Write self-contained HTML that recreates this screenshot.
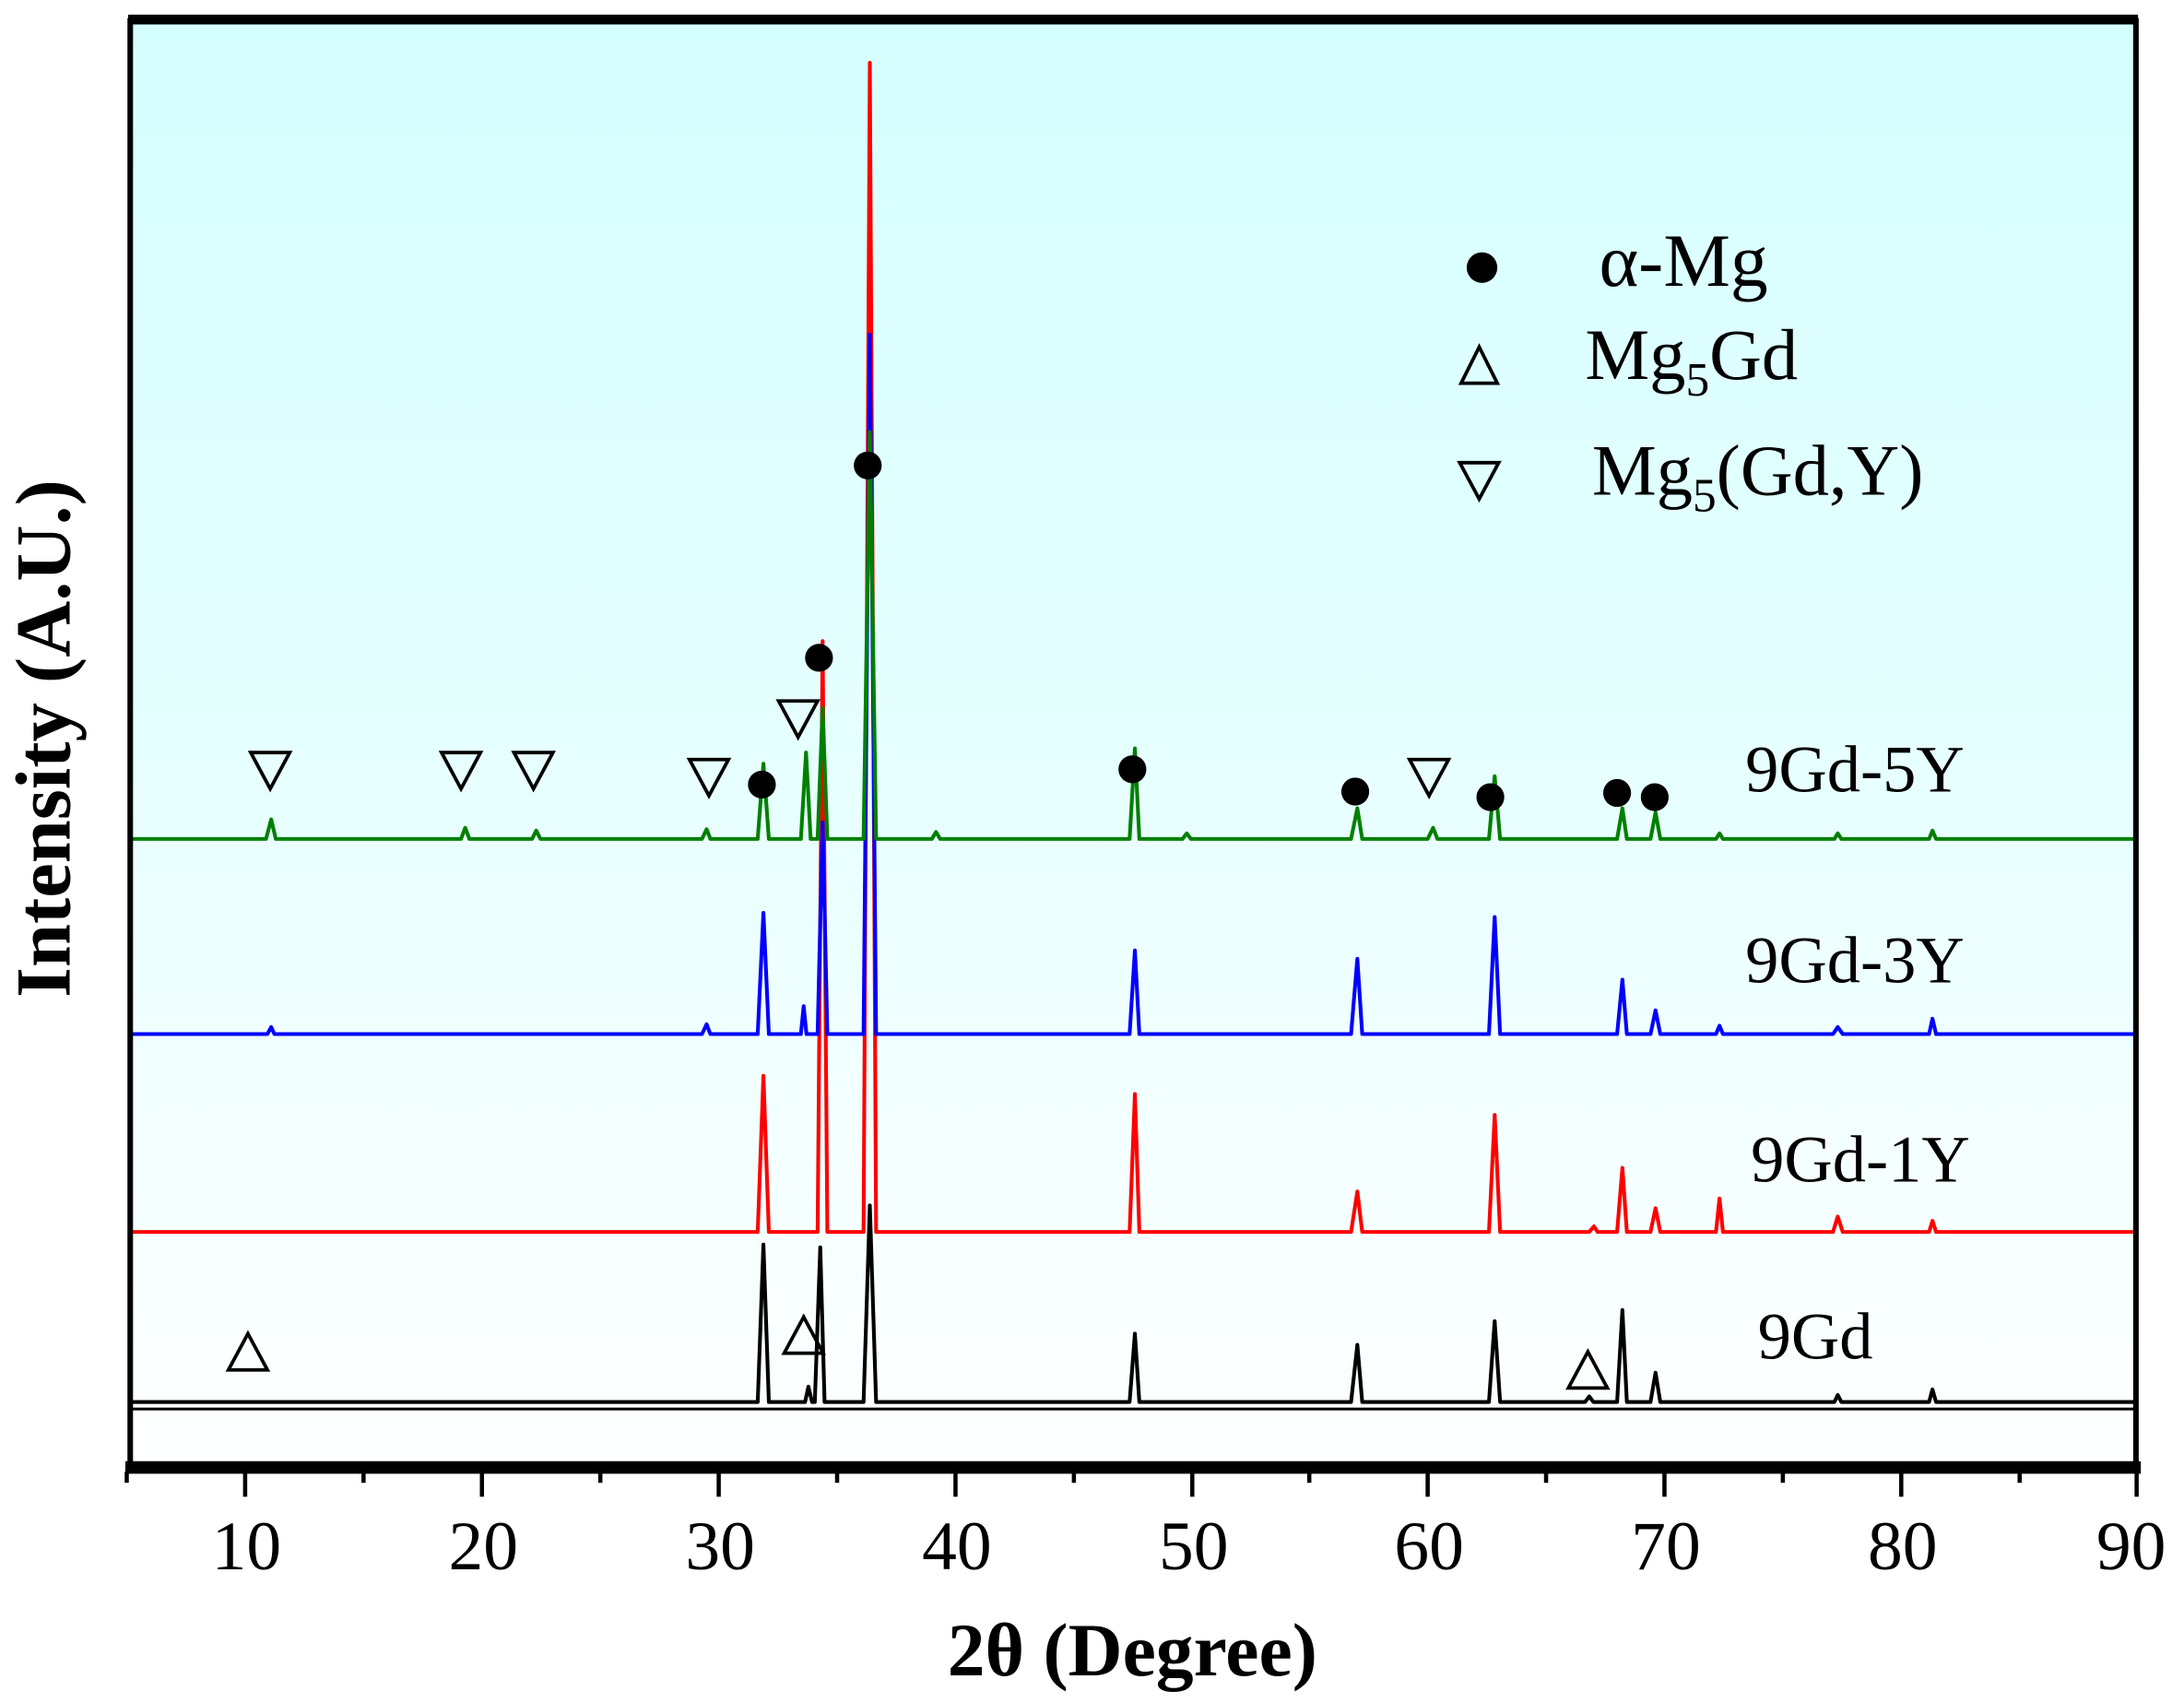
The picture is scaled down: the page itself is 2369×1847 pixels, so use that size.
<!DOCTYPE html>
<html><head><meta charset="utf-8"><style>html,body{margin:0;padding:0;background:#fff}svg{display:block}</style></head>
<body>
<svg xmlns="http://www.w3.org/2000/svg" width="2369" height="1847" viewBox="0 0 1568 1222" preserveAspectRatio="none" font-family="'Liberation Serif', serif">
<defs><linearGradient id="g" x1="0" y1="0" x2="0" y2="1"><stop offset="0" stop-color="#d6ffff"/><stop offset="0.5" stop-color="#e6ffff"/><stop offset="1" stop-color="#ffffff"/></linearGradient></defs>
<rect x="92" y="12" width="1443" height="1042" fill="url(#g)"/>
<g fill="none" stroke-width="2.7" stroke-linejoin="round">
<path stroke="#000" d="M92,1006 L544,1006 L548.1,893 L552,1006 L578,1006 L580.4,995 L583,1006 L585,1006 L588.9,895 L592,1006 L620,1006 L624.5,865 L629,1006 L811,1006 L814.8,957 L818,1006 L970,1006 L974.5,965 L978,1006 L1069,1006 L1073.1,948 L1077,1006 L1138,1006 L1141,1002 L1144,1006 L1161,1006 L1164.8,940 L1168,1006 L1185,1006 L1188.6,985 L1192,1006 L1317,1006 L1319.4,1001 L1322,1006 L1385,1006 L1387.4,997 L1390,1006 L1535,1006"/>
<path stroke="#ff0000" d="M92,884 L544,884 L548.1,772 L552,884 L587,884 L590.6,460 L594,884 L620,884 L624.5,45 L629,884 L811,884 L814.8,785 L818,884 L970,884 L974.5,855 L978,884 L1069,884 L1073.1,800 L1077,884 L1141,884 L1144.4,880 L1147,884 L1161,884 L1164.8,838 L1168,884 L1185,884 L1188.6,867 L1192,884 L1232,884 L1234.5,860 L1237,884 L1316,884 L1319.4,873 L1323,884 L1385,884 L1387.4,876 L1390,884 L1535,884"/>
<path stroke="#0000ff" d="M92,742 L192,742 L194.7,737 L197,742 L504,742 L507.3,735 L510,742 L544,742 L548.1,655 L552,742 L575,742 L577,722 L579,742 L587,742 L590.6,590 L594,742 L620,742 L624.5,240 L629,742 L811,742 L814.8,682 L818,742 L970,742 L974.5,688 L978,742 L1069,742 L1073.1,658 L1077,742 L1161,742 L1164.8,703 L1168,742 L1185,742 L1188.6,725 L1192,742 L1232,742 L1234.5,736 L1237,742 L1316,742 L1319.4,737 L1323,742 L1385,742 L1387.4,731 L1390,742 L1535,742"/>
<path stroke="#008000" d="M92,602 L191,602 L194.7,588 L198,602 L331,602 L334,594 L337,602 L382,602 L385,596 L388,602 L504,602 L507.3,595 L510,602 L544,602 L548.1,548 L552,602 L575,602 L578.7,540 L582,602 L587,602 L590.6,508 L594,602 L620,602 L624.5,310 L629,602 L669,602 L672,597 L675,602 L811,602 L814.8,537 L818,602 L849,602 L852,598 L855,602 L970,602 L974.5,580 L978,602 L1025,602 L1028.9,594 L1032,602 L1069,602 L1073.1,557 L1077,602 L1161,602 L1164.8,580 L1168,602 L1185,602 L1188.6,583 L1192,602 L1232,602 L1234.5,598 L1237,602 L1317,602 L1319.4,598 L1322,602 L1385,602 L1387.4,596 L1390,602 L1535,602"/>
</g>
<line x1="92" y1="1011" x2="1535" y2="1011" stroke="#000" stroke-width="2"/>
<rect x="93.5" y="15" width="1440" height="1039" fill="none" stroke="#000" stroke-width="4"/>
<line x1="92" y1="14" x2="1535" y2="14" stroke="#000" stroke-width="7"/>
<line x1="90" y1="1053" x2="1537" y2="1053" stroke="#000" stroke-width="9"/>
<g stroke="#000" stroke-width="3">
<line x1="91" y1="1056" x2="91" y2="1064"/><line x1="176" y1="1056" x2="176" y2="1074"/><line x1="261" y1="1056" x2="261" y2="1064"/><line x1="346" y1="1056" x2="346" y2="1074"/><line x1="431" y1="1056" x2="431" y2="1064"/><line x1="516" y1="1056" x2="516" y2="1074"/><line x1="601" y1="1056" x2="601" y2="1064"/><line x1="686" y1="1056" x2="686" y2="1074"/><line x1="771" y1="1056" x2="771" y2="1064"/><line x1="856" y1="1056" x2="856" y2="1074"/><line x1="940" y1="1056" x2="940" y2="1064"/><line x1="1025" y1="1056" x2="1025" y2="1074"/><line x1="1110" y1="1056" x2="1110" y2="1064"/><line x1="1195" y1="1056" x2="1195" y2="1074"/><line x1="1280" y1="1056" x2="1280" y2="1064"/><line x1="1365" y1="1056" x2="1365" y2="1074"/><line x1="1450" y1="1056" x2="1450" y2="1064"/><line x1="1534" y1="1056" x2="1534" y2="1074"/>
</g>
<g font-size="50" text-anchor="middle" fill="#000">
<text x="177" y="1126">10</text><text x="347" y="1126">20</text><text x="517" y="1126">30</text><text x="687" y="1126">40</text><text x="857" y="1126">50</text><text x="1026" y="1126">60</text><text x="1196" y="1126">70</text><text x="1366" y="1126">80</text><text x="1530" y="1126">90</text>
</g>
<text x="813" y="1202" font-size="54" font-weight="bold" text-anchor="middle">2θ (Degree)</text>
<text transform="translate(50,530) rotate(-90)" font-size="56" font-weight="bold" text-anchor="middle">Intensity (A.U.)</text>
<g font-size="48" fill="#000">
<text x="1253" y="568">9Gd-5Y</text>
<text x="1253" y="705">9Gd-3Y</text>
<text x="1257" y="848">9Gd-1Y</text>
<text x="1262" y="975">9Gd</text>
<circle cx="1064" cy="192" r="11"/>
<text x="1148" y="205" font-size="54">α-Mg</text>
<text x="1138" y="272" font-size="52">Mg<tspan font-size="34" dy="12">5</tspan><tspan dy="-12">Gd</tspan></text>
<text x="1143" y="355" font-size="52">Mg<tspan font-size="34" dy="12">5</tspan><tspan dy="-12">(Gd,Y)</tspan></text>
<circle cx="547" cy="563" r="10"/><circle cx="588" cy="472" r="10"/><circle cx="623" cy="334" r="10"/><circle cx="813" cy="552" r="10"/><circle cx="973" cy="568" r="10"/><circle cx="1070" cy="572" r="10"/><circle cx="1161" cy="569" r="10"/><circle cx="1188" cy="572" r="10"/>
</g>
<g fill="none" stroke="#000" stroke-width="2.5">
<polygon points="1049,249 1075,249 1062,275" transform="rotate(180 1062 262)"/>
<polygon points="1048,332 1076,332 1062,358"/>
<polygon points="180,540 208,540 194,566"/><polygon points="317,540 345,540 331,566"/><polygon points="369,540 397,540 383,566"/><polygon points="495,545 523,545 509,571"/><polygon points="559,503 587,503 573,529"/><polygon points="1012,545 1040,545 1026,571"/>
<polygon points="164,983 192,983 178,957"/><polygon points="563,971 591,971 577,945"/><polygon points="1126,996 1154,996 1140,970"/>
</g>
</svg>
</body></html>
